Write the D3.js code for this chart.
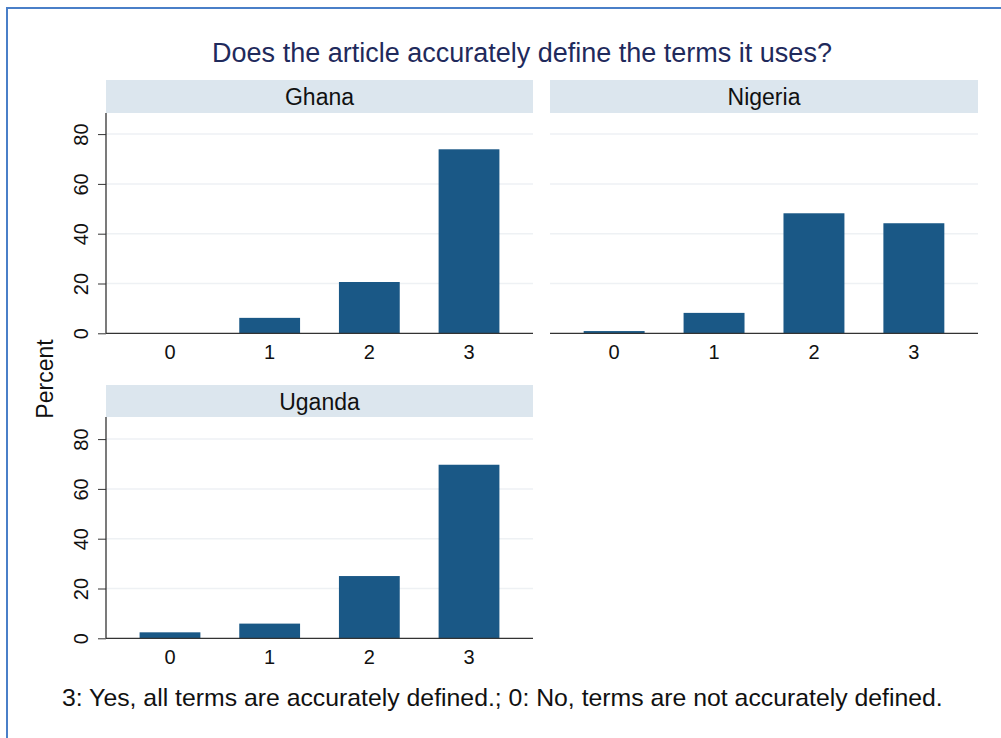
<!DOCTYPE html>
<html><head><meta charset="utf-8">
<script src="https://cdn.jsdelivr.net/npm/d3@7"></script>
<style>body{margin:0;background:#fff;} svg{display:block;font-family:"Liberation Sans",Arial,Helvetica,sans-serif;}</style>
</head><body>
<script>
const title = "Does the article accurately define the terms it uses?";
const note = "3: Yes, all terms are accurately defined.; 0: No, terms are not accurately defined.";
const categories = ["0","1","2","3"];
const countries = ["Ghana","Nigeria","Uganda"];
const ghana = [0, 6.2, 20.6, 73.9];
const nigeria = [0.9, 8.2, 48.2, 44.2];
const uganda = [2.4, 5.9, 25.0, 69.7];
const yTicks = [0,20,40,60,80];
const yLabel = "Percent";
const seriesByCountry = {Ghana: ghana, Nigeria: nigeria, Uganda: uganda};

const W = 1001, H = 738;
const FONT = "Liberation Sans, Arial, sans-serif";
const svg = d3.select("body").append("svg").attr("width", W).attr("height", H);

svg.append("rect").attr("x",7).attr("y",8).attr("width",W+10).attr("height",H+10)
  .attr("fill","#fff").attr("stroke","#4a7fc8").attr("stroke-width",2);

svg.append("text").attr("x",522).attr("y",62).attr("text-anchor","middle")
  .attr("font-size",27).attr("fill","#1f2a5c").text(title);

const panels = [
  {name:"Ghana", x0:106, x1:533, stripTop:80, axisTop:113, base:333.3, yaxis:true},
  {name:"Nigeria", x0:550, x1:978, stripTop:80, axisTop:113, base:333.3, yaxis:false},
  {name:"Uganda", x0:106, x1:533, stripTop:385, axisTop:417, base:638.3, yaxis:true}
];
const barColor = "#1a5886";

panels.forEach(p => {
  const vals = seriesByCountry[p.name];
  const g = svg.append("g");
  g.append("rect").attr("x",p.x0).attr("y",p.stripTop).attr("width",p.x1-p.x0)
    .attr("height",p.axisTop-p.stripTop).attr("fill","#dce6ee");
  g.append("text").attr("x",(p.x0+p.x1)/2).attr("y",p.stripTop+25).attr("text-anchor","middle")
    .attr("font-size",23).attr("fill","#111").text(p.name);

  const y = d3.scaleLinear().domain([0,80]).range([p.base, p.base - 80*2.49]);
  const x = d3.scaleBand().domain(categories).range([p.x0,p.x1]).paddingInner(0.39).paddingOuter(0.337);

  g.selectAll("line.grid").data(yTicks.filter(t=>t>0)).enter().append("line")
    .attr("x1",p.x0).attr("x2",p.x1).attr("y1",d=>y(d)).attr("y2",d=>y(d))
    .attr("stroke","#eef1f4").attr("stroke-width",1.5);

  g.selectAll("rect.bar").data(vals).enter().append("rect")
    .attr("x",(d,i)=>x(categories[i])).attr("width",x.bandwidth())
    .attr("y",d=>y(d)).attr("height",d=>p.base-y(d)).attr("fill",barColor);

  const xa = g.append("g").attr("transform",`translate(0,${p.base})`)
    .call(d3.axisBottom(x).tickSize(0).tickPadding(12));
  xa.attr("font-size",20).attr("font-family",FONT);
  xa.select(".domain").attr("stroke","#333").attr("stroke-width",1.3).attr("d",`M${p.x0},0H${p.x1}`);
  xa.selectAll("text").attr("fill","#111");

  if (p.yaxis) {
    const ya = g.append("g").attr("transform",`translate(${p.x0},0)`)
      .call(d3.axisLeft(y).tickValues(yTicks).tickSize(8).tickPadding(0).tickFormat(d3.format("d")));
    ya.attr("font-size",20).attr("font-family",FONT);
    ya.select(".domain").attr("stroke","#333").attr("stroke-width",1.3).attr("d",`M0,${p.axisTop}V${p.base}`);
    ya.selectAll(".tick line").attr("stroke","#333");
    ya.selectAll("text").attr("fill","#111")
      .attr("text-anchor","middle").attr("x",0).attr("dy",0)
      .attr("transform","translate(-25,0) rotate(-90)").attr("dominant-baseline","central");
  }
});

svg.append("text").attr("transform","translate(45,379) rotate(-90)").attr("text-anchor","middle")
  .attr("dominant-baseline","central")
  .attr("font-size",23).attr("fill","#111").text(yLabel);

svg.append("text").attr("x",62).attr("y",706).attr("font-size",24.8).attr("fill","#111").text(note);
</script>
</body></html>
